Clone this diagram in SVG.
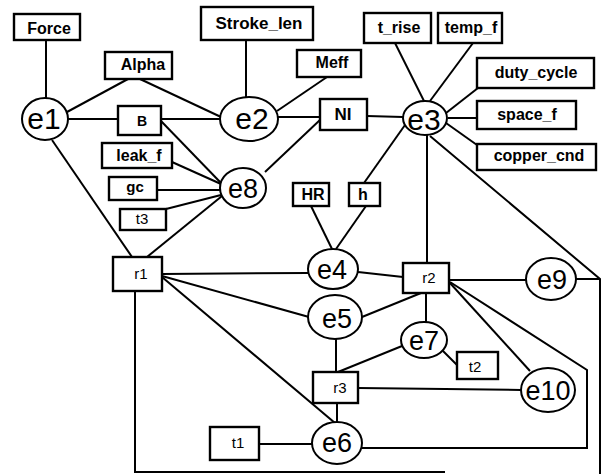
<svg xmlns="http://www.w3.org/2000/svg" width="603" height="474" viewBox="0 0 603 474">
<style>
.bg{fill:#fff}
.c line,.c path{stroke:#000;stroke-width:2;fill:none}
.n rect{fill:#fff;stroke:#000;stroke-width:2.4}
.n ellipse{fill:#fff;stroke:#000;stroke-width:2}
.b{font-family:"Liberation Sans",Arial,sans-serif;font-weight:bold;font-size:16px;text-anchor:middle;fill:#000}
.s{font-family:"Liberation Sans",Arial,sans-serif;font-size:15px;text-anchor:middle;fill:#000}
.e{font-family:"Liberation Sans",Arial,sans-serif;font-size:27px;text-anchor:middle;fill:#000}
.E{font-family:"Liberation Sans",Arial,sans-serif;font-size:30px;text-anchor:middle;fill:#000}
</style>
<rect class="bg" x="0" y="0" width="603" height="474"/>
<g id="connectors" class="c">
<line x1="46" y1="39" x2="46" y2="98"/>
<line x1="67" y1="112" x2="128" y2="79"/>
<line x1="140" y1="79" x2="221" y2="117"/>
<line x1="68" y1="119" x2="118" y2="119"/>
<line x1="161" y1="119" x2="220" y2="119"/>
<line x1="161" y1="121" x2="221" y2="183"/>
<line x1="172" y1="162" x2="221" y2="184"/>
<line x1="157" y1="190" x2="220" y2="190"/>
<line x1="166" y1="209" x2="221" y2="195"/>
<line x1="222" y1="196" x2="147" y2="257"/>
<line x1="52" y1="140" x2="132" y2="257"/>
<line x1="246" y1="40" x2="246" y2="97"/>
<line x1="277" y1="111" x2="327" y2="77"/>
<line x1="278" y1="117" x2="320" y2="117"/>
<line x1="265" y1="172" x2="321" y2="119"/>
<line x1="367" y1="116" x2="403" y2="117"/>
<line x1="395" y1="43" x2="424" y2="101"/>
<line x1="473" y1="43" x2="430" y2="101"/>
<line x1="478" y1="88" x2="446" y2="113"/>
<line x1="477" y1="118" x2="448" y2="118"/>
<line x1="477" y1="145" x2="446" y2="123"/>
<line x1="364" y1="183" x2="405" y2="125"/>
<line x1="427" y1="135" x2="427" y2="263"/>
<path d="M430 136 L600 279 L600 474"/>
<line x1="576" y1="279" x2="600" y2="279"/>
<line x1="311" y1="206" x2="332" y2="249"/>
<line x1="366" y1="206" x2="336" y2="249"/>
<line x1="162" y1="274" x2="308" y2="273"/>
<line x1="358" y1="272" x2="403" y2="277"/>
<line x1="162" y1="276" x2="309" y2="317"/>
<line x1="162" y1="277" x2="335" y2="423"/>
<line x1="421" y1="293" x2="362" y2="317"/>
<line x1="426" y1="293" x2="426" y2="322"/>
<line x1="449" y1="280" x2="526" y2="280"/>
<line x1="450" y1="283" x2="530" y2="371"/>
<path d="M450 282 L587 370 L587 448 L362 448"/>
<line x1="336" y1="339" x2="336" y2="372"/>
<line x1="402" y1="346" x2="338" y2="372"/>
<line x1="443" y1="351" x2="458" y2="366"/>
<line x1="358" y1="388" x2="521" y2="390"/>
<line x1="337" y1="403" x2="337" y2="422"/>
<line x1="259" y1="444" x2="312" y2="444"/>
<path d="M135 291 L135 472 L445 472"/>
</g>
<g id="Force" class="n"><rect x="14" y="14" width="66" height="26"/><text class="b" x="49" y="34">Force</text></g>
<g id="Stroke_len" class="n"><rect x="201" y="7" width="112" height="33"/><text class="b" x="259" y="29" style="font-size:17px">Stroke_len</text></g>
<g id="Alpha" class="n"><rect x="105" y="52" width="67" height="27"/><text class="b" x="143" y="70">Alpha</text></g>
<g id="Meff" class="n"><rect x="297" y="50" width="64" height="27"/><text class="b" x="332" y="68">Meff</text></g>
<g id="B" class="n"><rect x="118" y="106" width="43" height="29"/><text class="s" x="142" y="126" style="font-weight:bold;font-size:14px">B</text></g>
<g id="leak_f" class="n"><rect x="102" y="143" width="70" height="25"/><text class="b" x="139" y="161">leak_f</text></g>
<g id="gc" class="n"><rect x="109" y="177" width="48" height="23"/><text class="s" x="135" y="192" style="font-weight:bold">gc</text></g>
<g id="t3" class="n"><rect x="120" y="209" width="46" height="21"/><text class="s" x="142" y="224">t3</text></g>
<g id="NI" class="n"><rect x="320" y="99" width="47" height="31"/><text class="b" x="343" y="120" style="font-size:17px">NI</text></g>
<g id="t_rise" class="n"><rect x="364" y="13" width="67" height="30"/><text class="b" x="399" y="33">t_rise</text></g>
<g id="temp_f" class="n"><rect x="438" y="13" width="64" height="30"/><text class="b" x="471" y="33">temp_f</text></g>
<g id="duty_cycle" class="n"><rect x="477" y="58" width="117" height="30"/><text class="b" x="536" y="78">duty_cycle</text></g>
<g id="space_f" class="n"><rect x="477" y="101" width="99" height="28"/><text class="b" x="527" y="120">space_f</text></g>
<g id="copper_cnd" class="n"><rect x="477" y="144" width="119" height="26"/><text class="b" x="539" y="161">copper_cnd</text></g>
<g id="HR" class="n"><rect x="293" y="183" width="36" height="23"/><text class="b" x="313" y="200">HR</text></g>
<g id="h" class="n"><rect x="349" y="183" width="31" height="23"/><text class="b" x="363" y="200">h</text></g>
<g id="r1" class="n"><rect x="113" y="257" width="49" height="34"/><text class="s" x="141" y="279">r1</text></g>
<g id="r2" class="n"><rect x="403" y="263" width="46" height="30"/><text class="s" x="429" y="283">r2</text></g>
<g id="t2" class="n"><rect x="457" y="352" width="41" height="27"/><text class="s" x="475" y="372">t2</text></g>
<g id="r3" class="n"><rect x="313" y="372" width="45" height="31"/><text class="s" x="340" y="393">r3</text></g>
<g id="t1" class="n"><rect x="210" y="427" width="49" height="33"/><text class="s" x="238" y="448">t1</text></g>
<g id="e1" class="n"><ellipse cx="45" cy="119" rx="23" ry="21"/><text class="E" x="44" y="129">e1</text></g>
<g id="e2" class="n"><ellipse cx="249" cy="119" rx="29" ry="22"/><text class="E" x="252" y="129">e2</text></g>
<g id="e8" class="n"><ellipse cx="243" cy="188" rx="23" ry="20"/><text class="e" x="243" y="198">e8</text></g>
<g id="e3" class="n"><ellipse cx="425" cy="118" rx="22" ry="17"/><text class="E" x="424" y="130">e3</text></g>
<g id="e4" class="n"><ellipse cx="333" cy="269" rx="25" ry="20"/><text class="e" x="332" y="279">e4</text></g>
<g id="e9" class="n"><ellipse cx="551" cy="279" rx="25" ry="21"/><text class="e" x="552" y="289">e9</text></g>
<g id="e5" class="n"><ellipse cx="335" cy="317" rx="27" ry="22"/><text class="e" x="337" y="328">e5</text></g>
<g id="e7" class="n"><ellipse cx="424" cy="340" rx="23" ry="18"/><text class="e" x="424" y="350">e7</text></g>
<g id="e10" class="n"><ellipse cx="548" cy="390" rx="27" ry="22"/><text class="e" x="548" y="400">e10</text></g>
<g id="e6" class="n"><ellipse cx="337" cy="443" rx="25" ry="21"/><text class="e" x="337" y="452">e6</text></g>
</svg>
